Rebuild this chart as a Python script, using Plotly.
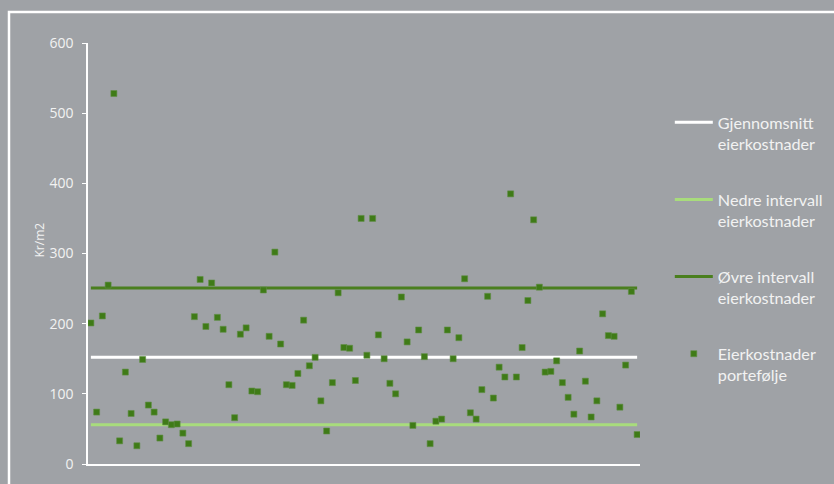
import plotly.graph_objects as go

categories = list(range(1, 97))
portfolio = [201, 74, 211, 255, 528, 33, 131, 72, 26, 149,
             84, 74, 37, 60, 56, 57, 44, 29, 210, 263,
             196, 258, 209, 192, 113, 66, 185, 194, 104, 103,
             248, 182, 302, 171, 113, 112, 129, 205, 140, 152,
             90, 47, 116, 244, 166, 165, 119, 350, 155, 350,
             184, 150, 115, 100, 238, 174, 55, 191, 153, 29,
             61, 64, 191, 150, 180, 264, 73, 64, 106, 239,
             94, 138, 124, 385, 124, 166, 233, 348, 252, 131,
             132, 147, 116, 95, 71, 161, 118, 67, 90, 214,
             183, 182, 81, 141, 246, 42]
mean_value = 152
lower_value = 56
upper_value = 251
y_ticks = [0, 100, 200, 300, 400, 500, 600]
y_title = "Kr/m2"

names = ["Gjennomsnitt<br>eierkostnader", "Nedre intervall<br>eierkostnader",
         "Øvre intervall<br>eierkostnader", "Eierkostnader<br>portefølje"]

bg = "#9FA2A6"
txt = "#F2F2F2"

fig = go.Figure()
fig.add_trace(go.Scatter(x=categories, y=[mean_value] * len(categories), mode="lines",
                         line=dict(color="#FFFFFF", width=3), name=names[0], legendgroup="a"))
fig.add_trace(go.Scatter(x=categories, y=[lower_value] * len(categories), mode="lines",
                         line=dict(color="#A8DC7C", width=3), name=names[1], legendgroup="b"))
fig.add_trace(go.Scatter(x=categories, y=[upper_value] * len(categories), mode="lines",
                         line=dict(color="#4A7F1E", width=3), name=names[2], legendgroup="c"))
fig.add_trace(go.Scatter(x=categories, y=portfolio, mode="markers",
                         marker=dict(symbol="square", size=6, color="#3F7B17",
                                     line=dict(color="#5F8F45", width=0.6)),
                         name=names[3], legendgroup="d"))

L, R, T, B = 88, 194, 43, 20
W, H = 834, 484
pw, ph = W - L - R, H - T - B


def px_x(x):
    return (x - L) / pw


def px_y(y):
    return (H - B - y) / ph


fig.add_shape(type="path", xref="paper", yref="paper",
              path=f"M {px_x(9)} {px_y(500)} L {px_x(9)} {px_y(12)} L {px_x(850)} {px_y(12)}",
              line=dict(color="#FFFFFF", width=2.5), layer="below")

fig.add_annotation(text=y_title, textangle=-90, xref="paper", yref="paper",
                   x=px_x(28), y=px_y(240), showarrow=False,
                   font=dict(family="Open Sans, sans-serif", size=12, color=txt))

fig.update_layout(
    width=W, height=H,
    margin=dict(l=L, r=R, t=T, b=B, autoexpand=False),
    paper_bgcolor=bg, plot_bgcolor=bg,
    font=dict(family="Open Sans, sans-serif", color=txt, size=12),
    showlegend=True,
    legend=dict(x=1.054, y=0.852, xanchor="left", yanchor="top",
                bgcolor="rgba(0,0,0,0)",
                font=dict(family="Lato, sans-serif", size=16.2, color=txt),
                traceorder="grouped", tracegroupgap=32, valign="top",
                itemwidth=38),
    xaxis=dict(range=[0.5, 96.5], showticklabels=False, showgrid=False, zeroline=False,
               showline=True, linecolor="#FFFFFF", linewidth=1.5, ticks=""),
    yaxis=dict(range=[0, 600], tickvals=y_ticks, showgrid=False, zeroline=False,
               showline=True, linecolor="#FFFFFF", linewidth=1.5, ticks="outside",
               ticklen=4, tickcolor="#FFFFFF",
               tickfont=dict(family="Open Sans, sans-serif", size=14, color=txt),
               ticklabelstandoff=6),
)

fig.write_html("out.html")
